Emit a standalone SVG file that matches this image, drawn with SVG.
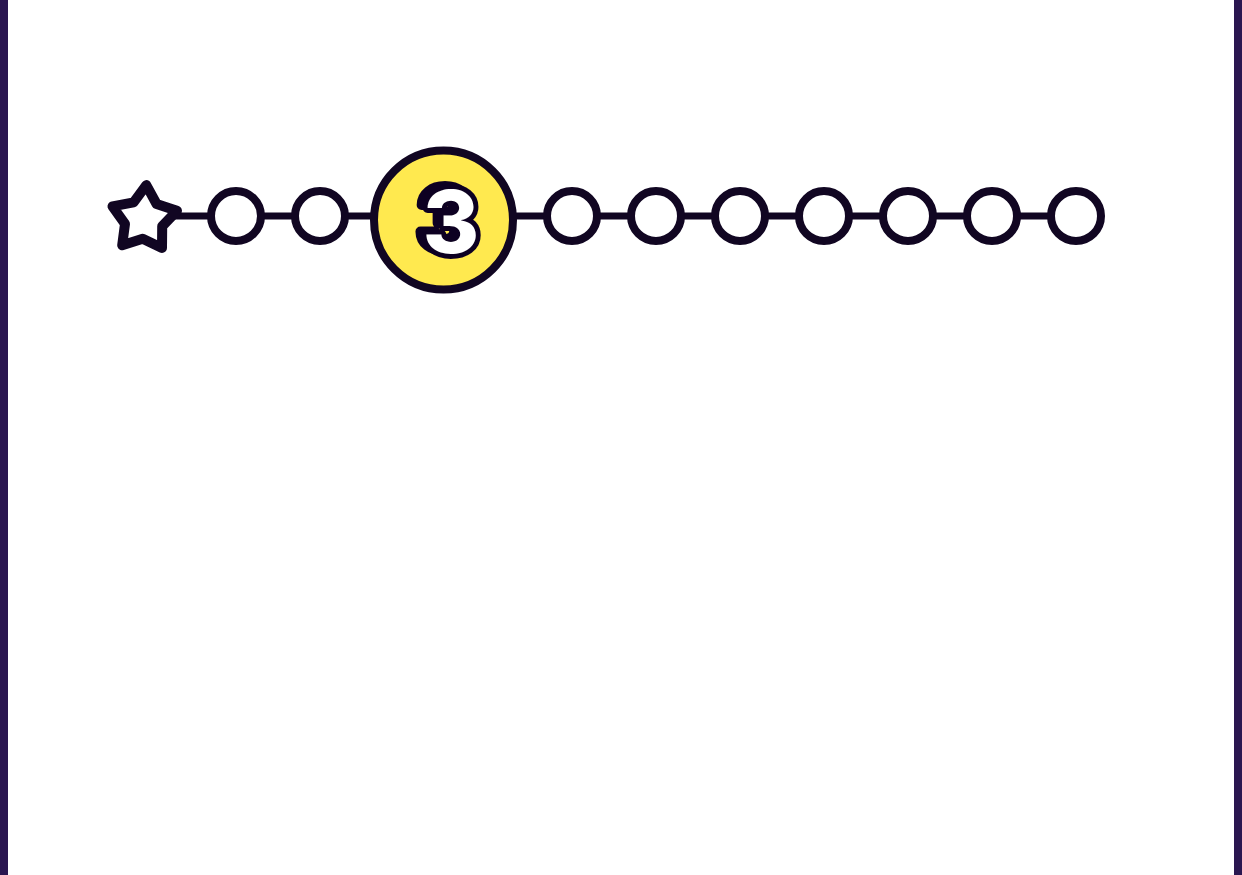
<svg xmlns="http://www.w3.org/2000/svg" width="1242" height="875" viewBox="0 0 1242 875">
<defs>
<filter id="shadow" x="-50%" y="-50%" width="200%" height="200%">
<feOffset in="SourceAlpha" dx="-6" dy="-3" result="o"/>
<feFlood flood-color="#110622"/>
<feComposite in2="o" operator="in" result="s"/>
<feMerge><feMergeNode in="s"/><feMergeNode in="SourceGraphic"/></feMerge>
</filter>
</defs>
<style>
.dot{fill:#ffffff;stroke:#110622;stroke-width:8}
.line{stroke:#110622;stroke-width:7;fill:none}
.num{font-family:Inter,Lato,"Liberation Sans",Arial,sans-serif;font-weight:800;font-size:86px;fill:#ffffff;stroke:#110622;stroke-width:10;paint-order:stroke fill;stroke-linejoin:round;text-anchor:middle}
</style>
<rect x="0" y="0" width="1242" height="875" fill="#ffffff"/>
<rect x="0" y="0" width="8" height="875" fill="#2a1650"/>
<rect x="1234" y="0" width="8" height="875" fill="#2a1650"/>
<g id="connectors">
<line class="line" x1="160" y1="216" x2="1076" y2="216"/>
</g>
<g id="start">
<path d="M146.3,185.1 L156.6,204 L177,210.7 L162.2,226.3 L162,248 L142.7,238.7 L122.2,245.2 L125,223.8 L112.5,206.3 L133.6,202.4 Z" fill="#ffffff" stroke="#110622" stroke-width="10" stroke-linejoin="round"/>
</g>
<g id="step1"><circle class="dot" cx="236" cy="216" r="25"/></g>
<g id="step2"><circle class="dot" cx="320" cy="216" r="25"/></g>
<g id="step3">
<circle cx="443.5" cy="220" r="69.5" fill="#ffe94f" stroke="#110622" stroke-width="8"/>
<text class="num" x="451" y="253" filter="url(#shadow)">3</text>
</g>
<g id="step4"><circle class="dot" cx="572" cy="216" r="25"/></g>
<g id="step5"><circle class="dot" cx="656" cy="216" r="25"/></g>
<g id="step6"><circle class="dot" cx="740" cy="216" r="25"/></g>
<g id="step7"><circle class="dot" cx="824" cy="216" r="25"/></g>
<g id="step8"><circle class="dot" cx="908" cy="216" r="25"/></g>
<g id="step9"><circle class="dot" cx="992" cy="216" r="25"/></g>
<g id="step10"><circle class="dot" cx="1076" cy="216" r="25"/></g>
</svg>
